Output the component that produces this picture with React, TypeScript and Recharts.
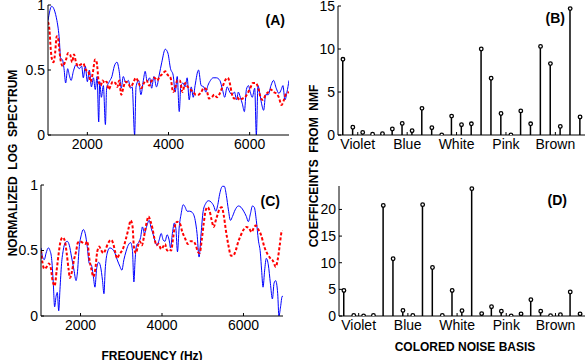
import React from 'react';
import { LineChart, Line, ComposedChart, Bar, XAxis, YAxis } from 'recharts';

const FONT = '"Liberation Sans", Arial, Helvetica, sans-serif';

// frequency axis (Hz) and normalized spectrum axis
const freqDomain = [1030, 6970];
const freqTicks = [2000, 4000, 6000];
const specTicks = [0, 0.5, 1];

// panel (A): [Hz, normalized log spectrum]
const specA_blue: [number, number][] = [
  [1030, 0.88], [1120, 0.99], [1250, 0.88], [1310, 0.73], [1340, 0.59], [1385, 0.58], [1425, 0.51],
  [1465, 0.4], [1515, 0.51], [1555, 0.46], [1600, 0.42], [1655, 0.49], [1720, 0.54], [1800, 0.51],
  [1860, 0.53], [1900, 0.44], [1950, 0.53], [2000, 0.41], [2050, 0.5], [2100, 0.37], [2150, 0.44],
  [2195, 0.35], [2240, 0.45], [2280, 0.1], [2305, 0.41], [2345, 0.29], [2395, 0.38], [2445, 0.08],
  [2475, 0.36], [2540, 0.41], [2605, 0.45], [2665, 0.53], [2730, 0.56], [2785, 0.49], [2835, 0.36],
  [2885, 0.45], [2950, 0.4], [3010, 0.42], [3065, 0.36], [3105, 0.37], [3165, 0.0], [3200, 0.37],
  [3265, 0.42], [3320, 0.31], [3380, 0.42], [3425, 0.49], [3475, 0.41], [3535, 0.44], [3585, 0.36],
  [3640, 0.45], [3705, 0.37], [3770, 0.46], [3835, 0.56], [3920, 0.66], [3985, 0.63], [4050, 0.51],
  [4115, 0.46], [4165, 0.33], [4215, 0.45], [4265, 0.18], [4305, 0.38], [4360, 0.4], [4410, 0.37],
  [4460, 0.44], [4510, 0.27], [4560, 0.37], [4610, 0.29], [4655, 0.38], [4740, 0.5], [4805, 0.38],
  [4870, 0.37], [4920, 0.33], [4970, 0.38], [5035, 0.42], [5100, 0.44], [5180, 0.44], [5265, 0.42],
  [5330, 0.35], [5385, 0.29], [5445, 0.37], [5510, 0.33], [5565, 0.31], [5625, 0.33], [5680, 0.27],
  [5720, 0.33], [5770, 0.29], [5820, 0.24], [5870, 0.18], [5920, 0.35], [5970, 0.38], [6015, 0.33],
  [6065, 0.29], [6125, 0.36], [6165, 0.0], [6205, 0.38], [6245, 0.33], [6295, 0.24], [6345, 0.19],
  [6395, 0.31], [6460, 0.31], [6525, 0.38], [6590, 0.42], [6655, 0.36], [6720, 0.32], [6780, 0.35],
  [6820, 0.38], [6870, 0.27], [6920, 0.33], [6970, 0.42],
];
const specA_red: [number, number][] = [
  [1030, 0.87], [1065, 0.81], [1100, 0.65], [1130, 0.58], [1165, 0.56], [1205, 0.63], [1245, 0.76],
  [1280, 0.74], [1310, 0.65], [1350, 0.56], [1395, 0.53], [1435, 0.55], [1475, 0.58], [1525, 0.63],
  [1575, 0.62], [1625, 0.56], [1670, 0.62], [1720, 0.56], [1770, 0.53], [1820, 0.54], [1900, 0.55],
  [1965, 0.5], [2025, 0.49], [2080, 0.41], [2140, 0.49], [2190, 0.58], [2230, 0.56], [2280, 0.41],
  [2330, 0.38], [2375, 0.42], [2425, 0.4], [2475, 0.41], [2525, 0.35], [2575, 0.38], [2625, 0.41],
  [2690, 0.4], [2740, 0.37], [2785, 0.42], [2835, 0.31], [2885, 0.36], [2935, 0.41], [3000, 0.4],
  [3065, 0.37], [3130, 0.4], [3195, 0.44], [3265, 0.4], [3330, 0.36], [3395, 0.4], [3460, 0.42],
  [3525, 0.38], [3590, 0.42], [3655, 0.44], [3720, 0.42], [3785, 0.45], [3855, 0.47], [3920, 0.49],
  [3985, 0.46], [4050, 0.44], [4115, 0.33], [4165, 0.36], [4215, 0.42], [4280, 0.42], [4345, 0.33],
  [4410, 0.4], [4475, 0.37], [4540, 0.35], [4610, 0.33], [4675, 0.31], [4740, 0.31], [4805, 0.33],
  [4870, 0.36], [4935, 0.35], [5000, 0.28], [5065, 0.29], [5130, 0.31], [5195, 0.29], [5265, 0.32],
  [5330, 0.37], [5395, 0.42], [5460, 0.44], [5510, 0.4], [5560, 0.32], [5625, 0.28], [5690, 0.29],
  [5755, 0.27], [5820, 0.28], [5885, 0.29], [5950, 0.32], [6015, 0.36], [6080, 0.4], [6150, 0.4],
  [6215, 0.36], [6280, 0.28], [6330, 0.27], [6395, 0.31], [6460, 0.33], [6525, 0.35], [6590, 0.33],
  [6655, 0.32], [6720, 0.29], [6785, 0.23], [6835, 0.26], [6900, 0.32], [6970, 0.33],
];

// panel (C)
const specC_blue: [number, number][] = [
  [1030, 0.52], [1070, 0.45], [1110, 0.43], [1155, 0.48], [1210, 0.52], [1250, 0.5], [1290, 0.44],
  [1330, 0.26], [1365, 0.07], [1400, 0.15], [1430, 0.18], [1465, 0.04], [1495, 0.2], [1535, 0.4],
  [1575, 0.5], [1625, 0.56], [1675, 0.57], [1725, 0.54], [1780, 0.45], [1840, 0.35], [1890, 0.27],
  [1920, 0.32], [1970, 0.53], [2020, 0.62], [2070, 0.66], [2115, 0.63], [2165, 0.53], [2215, 0.4],
  [2265, 0.39], [2315, 0.3], [2355, 0.22], [2395, 0.36], [2445, 0.41], [2490, 0.38], [2540, 0.27],
  [2575, 0.17], [2605, 0.35], [2655, 0.48], [2720, 0.52], [2785, 0.51], [2845, 0.48], [2900, 0.43],
  [2965, 0.38], [3015, 0.35], [3065, 0.43], [3115, 0.49], [3170, 0.54], [3230, 0.56], [3275, 0.5],
  [3310, 0.26], [3340, 0.43], [3375, 0.54], [3425, 0.56], [3475, 0.6], [3520, 0.68], [3570, 0.63],
  [3620, 0.68], [3685, 0.73], [3735, 0.67], [3785, 0.62], [3830, 0.57], [3880, 0.54], [3930, 0.58],
  [3980, 0.63], [4030, 0.58], [4075, 0.57], [4125, 0.62], [4175, 0.58], [4210, 0.52], [4255, 0.63],
  [4305, 0.71], [4340, 0.67], [4380, 0.49], [4420, 0.67], [4470, 0.78], [4520, 0.85], [4570, 0.83],
  [4615, 0.8], [4680, 0.8], [4745, 0.79], [4815, 0.73], [4860, 0.63], [4910, 0.45], [4960, 0.63],
  [5010, 0.8], [5075, 0.86], [5140, 0.88], [5205, 0.87], [5270, 0.84], [5320, 0.8], [5370, 0.85],
  [5415, 0.93], [5485, 0.99], [5530, 0.99], [5580, 0.92], [5630, 0.81], [5680, 0.73], [5730, 0.76],
  [5795, 0.81], [5875, 0.84], [5940, 0.83], [6005, 0.8], [6070, 0.76], [6120, 0.72], [6170, 0.78],
  [6220, 0.84], [6265, 0.83], [6315, 0.73], [6365, 0.58], [6415, 0.48], [6445, 0.35], [6480, 0.22],
  [6520, 0.35], [6560, 0.44], [6610, 0.39], [6660, 0.25], [6710, 0.13], [6750, 0.25], [6790, 0.27],
  [6840, 0.17], [6870, 0.0], [6910, 0.07], [6950, 0.15], [6970, 0.15],
];
const specC_red: [number, number][] = [
  [1030, 0.5], [1070, 0.4], [1110, 0.36], [1170, 0.375], [1220, 0.4], [1265, 0.375], [1315, 0.27],
  [1365, 0.23], [1415, 0.35], [1465, 0.48], [1510, 0.57], [1560, 0.6], [1610, 0.58], [1660, 0.48],
  [1710, 0.35], [1740, 0.29], [1790, 0.34], [1840, 0.43], [1890, 0.49], [1935, 0.56], [1985, 0.57],
  [2050, 0.56], [2115, 0.55], [2165, 0.57], [2215, 0.44], [2265, 0.36], [2315, 0.3], [2360, 0.35],
  [2410, 0.49], [2460, 0.53], [2510, 0.5], [2560, 0.48], [2605, 0.5], [2655, 0.54], [2705, 0.57],
  [2755, 0.58], [2805, 0.55], [2850, 0.49], [2900, 0.44], [2950, 0.47], [3000, 0.49], [3050, 0.52],
  [3115, 0.59], [3180, 0.67], [3230, 0.73], [3275, 0.69], [3310, 0.53], [3360, 0.48], [3405, 0.53],
  [3455, 0.57], [3505, 0.54], [3555, 0.6], [3620, 0.71], [3670, 0.76], [3720, 0.72], [3765, 0.67],
  [3815, 0.59], [3865, 0.54], [3915, 0.55], [3980, 0.51], [4030, 0.53], [4075, 0.55], [4125, 0.5],
  [4175, 0.51], [4225, 0.5], [4275, 0.6], [4320, 0.69], [4370, 0.72], [4435, 0.71], [4500, 0.64],
  [4570, 0.59], [4635, 0.55], [4700, 0.57], [4765, 0.57], [4830, 0.54], [4880, 0.49], [4925, 0.48],
  [4975, 0.58], [5025, 0.71], [5075, 0.81], [5125, 0.83], [5170, 0.8], [5220, 0.73], [5270, 0.68],
  [5320, 0.73], [5370, 0.78], [5415, 0.82], [5465, 0.83], [5515, 0.77], [5565, 0.66], [5630, 0.54],
  [5695, 0.46], [5745, 0.46], [5810, 0.5], [5875, 0.57], [5940, 0.62], [6005, 0.66], [6070, 0.68],
  [6135, 0.67], [6200, 0.64], [6250, 0.67], [6300, 0.69], [6365, 0.66], [6430, 0.62], [6510, 0.53],
  [6595, 0.47], [6660, 0.44], [6725, 0.42], [6790, 0.375], [6840, 0.43], [6890, 0.54], [6935, 0.64],
  [6970, 0.65],
];

// colored noise basis coefficients, 5 per colour
const noiseBasis = ['Violet', 'Blue', 'White', 'Pink', 'Brown'];
const basisTicks = [2.5, 7.5, 12.5, 17.5, 22.5];
const coefB = [
  8.8, 0.9, 0.3, 0.1, 0.15, 0.7, 1.35, 0.5, 3.1, 0.85, 0, 2.2, 1.2, 1.3, 10.0,
  6.6, 2.5, 0, 2.8, 1.3, 10.3, 8.3, 1.0, 14.7, 2.1,
];
const coefD = [
  4.8, 0.1, 0, 0.1, 20.75, 10.75, 1.05, 0.1, 20.9, 9.1, 0.1, 4.8, 1.0, 23.9, 0.45,
  1.75, 0.9, 0, 0.4, 3.05, 0.9, 0.05, 0.25, 4.5, 0.4,
];
const coefTicksB = [0, 5, 10, 15];
const coefTicksD = [0, 5, 10, 15, 20];

const tickStyle = { fill: '#000', fontSize: 14, fontFamily: FONT };

const toRows = (pts: [number, number][]) => pts.map(([f, v]) => ({ f, v }));

interface SpectrumProps {
  left: number;
  top: number;
  width: number;
  height: number;
  marginTop: number;
  yWidth: number;
  blue: [number, number][];
  red: [number, number][];
}

const SpectrumPanel: React.FC<SpectrumProps> = ({ left, top, width, height, marginTop, yWidth, blue, red }) => (
  <div style={{ position: 'absolute', left, top }}>
    <LineChart width={width} height={height} margin={{ top: marginTop, right: 3, bottom: 0, left: 0 }}>
      <XAxis type="number" dataKey="f" domain={freqDomain} ticks={freqTicks} allowDataOverflow interval={0}
        height={25} tickSize={-3} tickMargin={7} tick={tickStyle} stroke="#000" />
      <XAxis xAxisId="top" orientation="top" type="number" domain={freqDomain} ticks={freqTicks}
        allowDataOverflow height={0} tickSize={-3} tick={false} stroke="#000" />
      <YAxis type="number" domain={[0, 1]} ticks={specTicks} allowDataOverflow interval={0}
        width={yWidth} tickSize={-3} tickMargin={6} tick={tickStyle} stroke="#000" />
      <YAxis yAxisId="right" orientation="right" type="number" domain={[0, 1]} ticks={specTicks}
        allowDataOverflow width={0} tickSize={-3} tick={false} stroke="#000" />
      <Line data={toRows(blue)} dataKey="v" type="monotone" stroke="#0000ff" strokeWidth={1}
        dot={false} isAnimationActive={false} />
      <Line data={toRows(red)} dataKey="v" type="monotone" stroke="#ff0000" strokeWidth={2}
        strokeDasharray="3 2" dot={false} isAnimationActive={false} />
    </LineChart>
  </div>
);

interface StemProps {
  left: number;
  top: number;
  width: number;
  height: number;
  marginTop: number;
  yWidth: number;
  values: number[];
  yMax: number;
  yTicks: number[];
}

const StemPanel: React.FC<StemProps> = ({ left, top, width, height, marginTop, yWidth, values, yMax, yTicks }) => {
  const rows = values.map((v, i) => ({ i: i + 1, v }));
  return (
    <div style={{ position: 'absolute', left, top }}>
      <ComposedChart width={width} height={height} data={rows} margin={{ top: marginTop, right: 1, bottom: 0, left: 0 }}>
        <XAxis type="number" dataKey="i" domain={[0.5, 25.5]} ticks={basisTicks} allowDataOverflow interval={0}
          tickFormatter={(t: number) => noiseBasis[basisTicks.indexOf(t)]}
          height={25} tickSize={-3} tickMargin={7} tick={tickStyle} stroke="#000" />
        <XAxis xAxisId="top" orientation="top" type="number" domain={[0.5, 25.5]} ticks={basisTicks}
          allowDataOverflow height={0} tickSize={-3} tick={false} stroke="#000" />
        <YAxis type="number" domain={[0, yMax]} ticks={yTicks} allowDataOverflow interval={0}
          width={yWidth} tickSize={-3} tickMargin={6} tick={tickStyle} stroke="#000" />
        <YAxis yAxisId="right" orientation="right" type="number" domain={[0, yMax]} ticks={yTicks}
          allowDataOverflow width={0} tickSize={-3} tick={false} stroke="#000" />
        <Bar dataKey="v" barSize={1.5} fill="#000" isAnimationActive={false} />
        <Line dataKey="v" stroke="none" isAnimationActive={false}
          dot={{ r: 1.8, fill: '#fff', stroke: '#000', strokeWidth: 1.3 }} />
      </ComposedChart>
    </div>
  );
};

const App: React.FC = () => (
  <div style={{ position: 'fixed', left: 0, top: 0, width: 586, height: 360, background: '#fff', overflow: 'hidden', fontFamily: FONT }}>
    <SpectrumPanel left={0} top={0} width={292} height={160} marginTop={5} yWidth={48} blue={specA_blue} red={specA_red} />
    <SpectrumPanel left={0} top={170} width={286} height={171} marginTop={15} yWidth={41} blue={specC_blue} red={specC_red} />
    <StemPanel left={290} top={0} width={296} height={160} marginTop={6} yWidth={48} values={coefB} yMax={15} yTicks={coefTicksB} />
    <StemPanel left={290} top={170} width={296} height={171} marginTop={16} yWidth={49} values={coefD} yMax={24.4} yTicks={coefTicksD} />
    <svg width={586} height={360} style={{ position: 'absolute', left: 0, top: 0, pointerEvents: 'none' }}>
      <g fontFamily={FONT} fontWeight="bold" fill="#000">
        <text x={285} y={25} fontSize={14} textAnchor="end">(A)</text>
        <text x={565} y={23} fontSize={14} textAnchor="end">(B)</text>
        <text x={280} y={206} fontSize={14} textAnchor="end">(C)</text>
        <text x={567} y={205} fontSize={14} textAnchor="end">(D)</text>
        <text transform="translate(17,163) rotate(-90)" fontSize={12} textAnchor="middle" style={{ whiteSpace: 'pre' }}>
          NORMALIZED  LOG  SPECTRUM
        </text>
        <text transform="translate(318,166) rotate(-90)" fontSize={12} textAnchor="middle" style={{ whiteSpace: 'pre' }}>
          COEFFICEINTS  FROM  NMF
        </text>
        <text x={152} y={360} fontSize={12} textAnchor="middle">FREQUENCY (Hz)</text>
        <text x={465} y={351} fontSize={12} textAnchor="middle">COLORED NOISE BASIS</text>
      </g>
    </svg>
  </div>
);

export default App;
